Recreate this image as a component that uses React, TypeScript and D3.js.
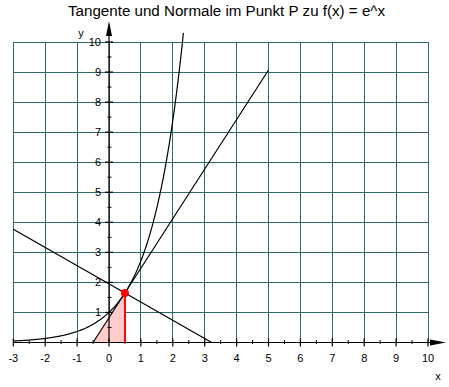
import React from "react";
import * as d3 from "d3";

const TITLE = "Tangente und Normale im Punkt P zu f(x) = e^x";
const X_TICKS = [-3, -2, -1, 0, 1, 2, 3, 4, 5, 6, 7, 8, 9, 10];
const Y_TICKS = [1, 2, 3, 4, 5, 6, 7, 8, 9, 10];
const POINT_X = 0.5;
const CURVE_X_RANGE = [-3, 2.332];
const TANGENT_X_RANGE = [-0.5, 5];
const NORMAL_X_RANGE = [-3, 3.2183];

const W = 449;
const H = 387;
const GRID = "#2f6a66";
const FONT = "Arial, 'Liberation Sans', sans-serif";

export default function App() {
  const x = d3.scaleLinear().domain([-3, 10]).range([13.3, 428]);
  const y = d3.scaleLinear().domain([0, 10]).range([342.5, 42]);

  const f = (v: number) => Math.exp(v);
  const fp = f(POINT_X);
  const tangent = (v: number) => fp + fp * (v - POINT_X);
  const normal = (v: number) => fp - (1 / fp) * (v - POINT_X);

  const line = d3
    .line<[number, number]>()
    .x((d) => x(d[0]))
    .y((d) => y(d[1]));

  const curvePts: [number, number][] = d3
    .range(0, 301)
    .map((i) => {
      const v = CURVE_X_RANGE[0] + ((CURVE_X_RANGE[1] - CURVE_X_RANGE[0]) * i) / 300;
      return [v, f(v)];
    });
  const tangentPts: [number, number][] = TANGENT_X_RANGE.map((v) => [v, tangent(v)]);
  const normalPts: [number, number][] = NORMAL_X_RANGE.map((v) => [v, normal(v)]);
  const areaPts: [number, number][] = [
    [TANGENT_X_RANGE[0], 0],
    [POINT_X, 0],
    [POINT_X, fp],
  ];

  const x0 = x(0);
  const y0 = y(0);
  const halfX = d3.range(-2.5, 10, 1);
  const halfY = d3.range(0.5, 10, 1);

  return (
    <svg width={W} height={H} style={{ position: "absolute", left: 0, top: 0, background: "#fff" }}>
      <rect x={0} y={0} width={W} height={H} fill="#fff" />
      <text x={226.5} y={15.5} textAnchor="middle" fontFamily={FONT} fontSize={14} textLength={317} lengthAdjust="spacingAndGlyphs" fill="#000">
        {TITLE}
      </text>

      {/* grid */}
      {X_TICKS.map((t) => (
        <line key={"gx" + t} x1={x(t)} x2={x(t)} y1={y(0)} y2={y(10)} stroke={GRID} strokeWidth={1} shapeRendering="crispEdges" />
      ))}
      {Y_TICKS.map((t) => (
        <line key={"gy" + t} x1={x(-3)} x2={x(10)} y1={y(t)} y2={y(t)} stroke={GRID} strokeWidth={1} shapeRendering="crispEdges" />
      ))}

      {/* shaded area */}
      <path d={line(areaPts) + "Z"} fill="#ffcccc" stroke="none" />

      {/* axes */}
      <line x1={x(-3)} x2={431} y1={y0} y2={y0} stroke="#000" strokeWidth={1.2} />
      <path d={`M430,${y0 - 3}L446,${y0}L430,${y0 + 3}Z`} fill="#000" />
      <line x1={x0} x2={x0} y1={y0} y2={36} stroke="#000" strokeWidth={1.2} />
      <path d={`M${x0 - 3},36L${x0},21L${x0 + 3},36Z`} fill="#000" />

      {X_TICKS.map((t) => (
        <line key={"tx" + t} x1={x(t)} x2={x(t)} y1={y0 - 4} y2={y0 + 4} stroke="#000" strokeWidth={1.2} />
      ))}
      {halfX.map((t) => (
        <line key={"hx" + t} x1={x(t)} x2={x(t)} y1={y0 - 2.5} y2={y0 + 1.5} stroke="#000" strokeWidth={1} />
      ))}
      {Y_TICKS.map((t) => (
        <line key={"ty" + t} x1={x0 - 4} x2={x0 + 4} y1={y(t)} y2={y(t)} stroke="#000" strokeWidth={1.2} />
      ))}
      {halfY.map((t) => (
        <line key={"hy" + t} x1={x0 - 1.5} x2={x0 + 2.5} y1={y(t)} y2={y(t)} stroke="#000" strokeWidth={1} />
      ))}

      {X_TICKS.map((t) => (
        <text key={"lx" + t} x={x(t)} y={362} textAnchor="middle" fontFamily={FONT} fontSize={11} fill="#000">
          {t}
        </text>
      ))}
      {Y_TICKS.map((t) => (
        <text key={"ly" + t} x={101} y={y(t) + 4} textAnchor="end" fontFamily={FONT} fontSize={11} fill="#000">
          {t}
        </text>
      ))}
      <text x={81} y={37} textAnchor="middle" fontFamily={FONT} fontSize={11} fill="#000">y</text>
      <text x={438} y={380} textAnchor="middle" fontFamily={FONT} fontSize={11} fill="#000">x</text>

      {/* curves */}
      <path d={line(curvePts) || ""} fill="none" stroke="#000" strokeWidth={1.2} />
      <path d={line(tangentPts) || ""} fill="none" stroke="#000" strokeWidth={1.2} />
      <path d={line(normalPts) || ""} fill="none" stroke="#000" strokeWidth={1.2} />

      {/* point P */}
      <line x1={x(POINT_X)} x2={x(POINT_X)} y1={y0} y2={y(fp)} stroke="#ff0000" strokeWidth={2} />
      <circle cx={x(POINT_X)} cy={y(fp)} r={4} fill="#ff0000" />
    </svg>
  );
}
